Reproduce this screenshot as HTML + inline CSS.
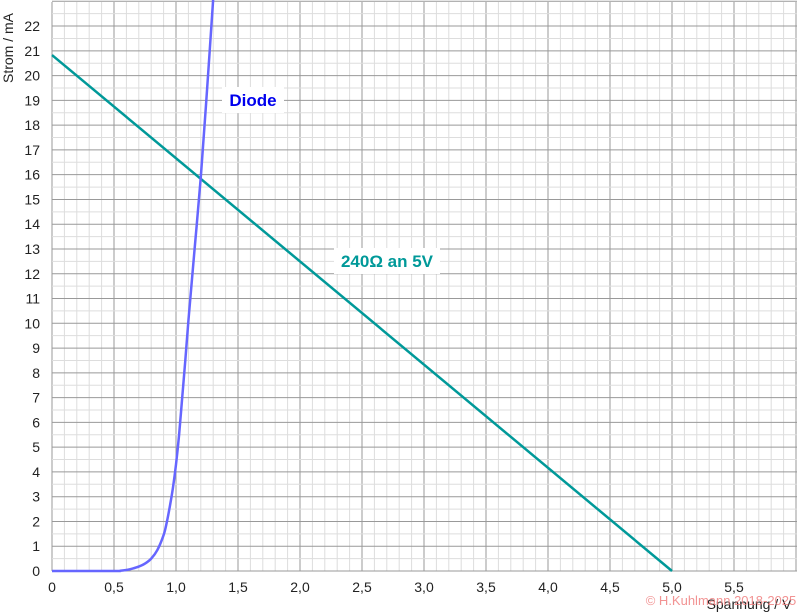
<!DOCTYPE html>
<html><head><meta charset="utf-8"><style>
html,body{margin:0;padding:0;background:#fff;width:800px;height:613px;overflow:hidden}
svg{display:block;font-family:"Liberation Sans",sans-serif}
</style></head><body>
<svg id="s" width="800" height="613" xmlns="http://www.w3.org/2000/svg">
<rect width="800" height="613" fill="#fff"/>
<g id="g"></g>
<text x="13" y="48" transform="rotate(-90 13 48)" font-size="14" fill="#222" text-anchor="middle">Strom / mA</text>
<rect x="222" y="87" width="62" height="26" fill="#fff"/>
<text x="253" y="106" font-size="17" font-weight="bold" fill="#0000ee" text-anchor="middle">Diode</text>
<rect x="334" y="248" width="106" height="26" fill="#fff"/>
<text x="387" y="267" font-size="17" font-weight="bold" fill="#009999" text-anchor="middle">240Ω an 5V</text>
<text x="749" y="609" font-size="14" fill="#222" text-anchor="middle">Spannung / V</text>
<text x="721" y="605" font-size="13" fill="#f08080" fill-opacity="0.85" text-anchor="middle">© H.Kuhlmann 2018-2025</text>
</svg>
<script>
var g=document.getElementById('g'),h='';
var X=function(v){return 52+124*v},Y=function(i){return 571-24.77*i};
for(var k=0;k<=60;k++){var x=X(k/10),maj=k%5==0;h+='<line x1="'+x+'" y1="2" x2="'+x+'" y2="571" stroke="'+(maj?'#999':'#ddd')+'" stroke-width="1"/>';}
for(var k=0;k<=46;k++){var y=Y(k/2),maj=k%2==0;h+='<line x1="52" y1="'+y+'" x2="797" y2="'+y+'" stroke="'+(maj?'#999':'#ddd')+'" stroke-width="1"/>';}
for(var k=0;k<=11;k++){var v=k/2;h+='<text x="'+X(v)+'" y="592" font-size="14" fill="#222" text-anchor="middle">'+(k==0?'0':v.toFixed(1).replace('.',','))+'</text>';}
for(var k=0;k<=22;k++){h+='<text x="40" y="'+(Y(k)+5)+'" font-size="14" fill="#222" text-anchor="end">'+k+'</text>';}
h+='<line x1="'+X(0)+'" y1="'+Y(20.83)+'" x2="'+X(5)+'" y2="'+Y(0)+'" stroke="#009999" stroke-width="2.5"/>';
var pts=[[0,0],[0.5,0],[0.55,0.01],[0.6,0.04],[0.65,0.1],[0.7,0.18],[0.75,0.3],[0.8,0.5],[0.85,0.85],[0.9,1.45],[0.925,1.95],[0.95,2.6],[0.975,3.35],[1.0,4.3],[1.025,5.5],[1.05,7.0],[1.075,8.5],[1.1,10.1],[1.15,13.0],[1.2,15.9],[1.25,19.4],[1.3,23.1]];
var d='M'+X(0)+','+Y(0);
for(var i=1;i<pts.length;i++){var p0=pts[Math.max(i-2,0)],p1=pts[i-1],p2=pts[i],p3=pts[Math.min(i+1,pts.length-1)];
var a=[X(p1[0]),Y(p1[1])],b=[X(p2[0]),Y(p2[1])],c0=[X(p0[0]),Y(p0[1])],c3=[X(p3[0]),Y(p3[1])];
d+=' C'+(a[0]+(b[0]-c0[0])/6)+','+(a[1]+(b[1]-c0[1])/6)+' '+(b[0]-(c3[0]-a[0])/6)+','+(b[1]-(c3[1]-a[1])/6)+' '+b[0]+','+b[1];}
h+='<path fill="none" stroke="#6666ff" stroke-width="2.5" d="'+d+'"/>';
g.innerHTML=h;
</script>
</body></html>
